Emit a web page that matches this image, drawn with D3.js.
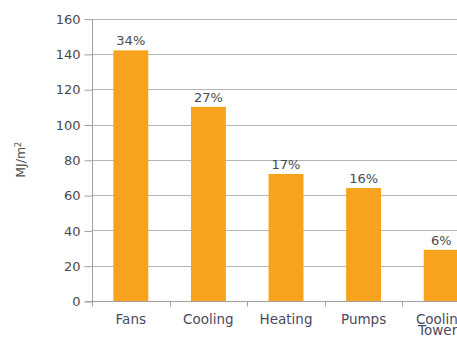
<!DOCTYPE html>
<html><head><meta charset="utf-8">
<script src="https://cdn.jsdelivr.net/npm/d3@7"></script>
<style>
html,body{margin:0;padding:0;background:#fff;overflow:hidden}
text{font-family:"DejaVu Sans",sans-serif}
</style></head>
<body><svg id="c" width="457" height="338"></svg>
<script>
const categories = [["Fans"], ["Cooling"], ["Heating"], ["Pumps"], ["Cooling", "Towers"]];
const values = [142, 110, 72, 64, 29];
const shares = ["34%", "27%", "17%", "16%", "6%"];
const yTicks = [0, 20, 40, 60, 80, 100, 120, 140, 160];
const yTitle = "MJ/m";

const svg = d3.select("#c");
const x = d3.scaleBand().domain(d3.range(values.length)).range([92, 480]).paddingInner(0.55).paddingOuter(0.275);
const y = d3.scaleLinear().domain([0, 160]).range([301, 18.6]);

// gridlines
svg.append("g").selectAll("line").data(yTicks.filter(d => d > 0)).join("line")
  .attr("x1", 92).attr("x2", 480).attr("y1", d => Math.round(y(d)) + 0.5).attr("y2", d => Math.round(y(d)) + 0.5)
  .attr("stroke", "#b5b5b5").attr("stroke-width", 1);

// y axis
const ya = svg.append("g").attr("transform", "translate(92.5,0.5)")
  .call(d3.axisLeft(y).tickValues(yTicks).tickSize(8).tickPadding(4).tickFormat(d3.format("d")));
ya.select(".domain").attr("d", `M0,${y(160)}V${y(0)+5}`).attr("stroke", "#a0a0a0");
ya.selectAll(".tick line").attr("stroke", "#a0a0a0");
ya.selectAll(".tick text").attr("fill", "#4a4a4a").style("font-size", "13px").attr("font-family", "DejaVu Sans");

// x axis
const band = x.step();
const xa = svg.append("g").attr("transform", `translate(0,${Math.round(y(0)) + 0.5})`);
xa.append("line").attr("x1", 85).attr("x2", 480).attr("stroke", "#a0a0a0");
xa.selectAll("line.t").data(d3.range(1, values.length)).join("line").attr("class", "t")
  .attr("x1", i => Math.round(x(i) - (band - x.bandwidth()) / 2) + 0.5)
  .attr("x2", i => Math.round(x(i) - (band - x.bandwidth()) / 2) + 0.5)
  .attr("y1", 0).attr("y2", 5).attr("stroke", "#a0a0a0");

// bars
svg.append("g").selectAll("rect").data(values).join("rect")
  .attr("x", (d, i) => x(i)).attr("width", x.bandwidth())
  .attr("y", d => y(d)).attr("height", d => y(0) - y(d))
  .attr("fill", "#F8A31E");

// value labels
svg.append("g").selectAll("text").data(values).join("text")
  .attr("x", (d, i) => x(i) + x.bandwidth() / 2).attr("y", d => y(d) - 5)
  .attr("text-anchor", "middle").attr("fill", "#4a4a4a").style("font-size", "13px")
  .text((d, i) => shares[i]);

// category labels
const cl = svg.append("g").selectAll("text").data(categories).join("text")
  .attr("x", (d, i) => x(i) + x.bandwidth() / 2).attr("y", 324)
  .attr("text-anchor", "middle").attr("fill", "#4b4860").style("font-size", "13.5px");
cl.selectAll("tspan").data(d => d).join("tspan")
  .attr("x", function() { return this.parentNode.getAttribute("x"); })
  .attr("dy", (d, j) => j === 0 ? 0 : "0.8em").text(d => d);

// y title
const yt = svg.append("text").attr("transform", `translate(25,${(y(0) + y(160)) / 2}) rotate(-90)`)
  .attr("text-anchor", "middle").attr("fill", "#4a4a4a").style("font-size", "12.5px");
yt.append("tspan").text(yTitle);
yt.append("tspan").attr("dy", "-0.45em").style("font-size", "8px").text("2");
</script></body></html>
